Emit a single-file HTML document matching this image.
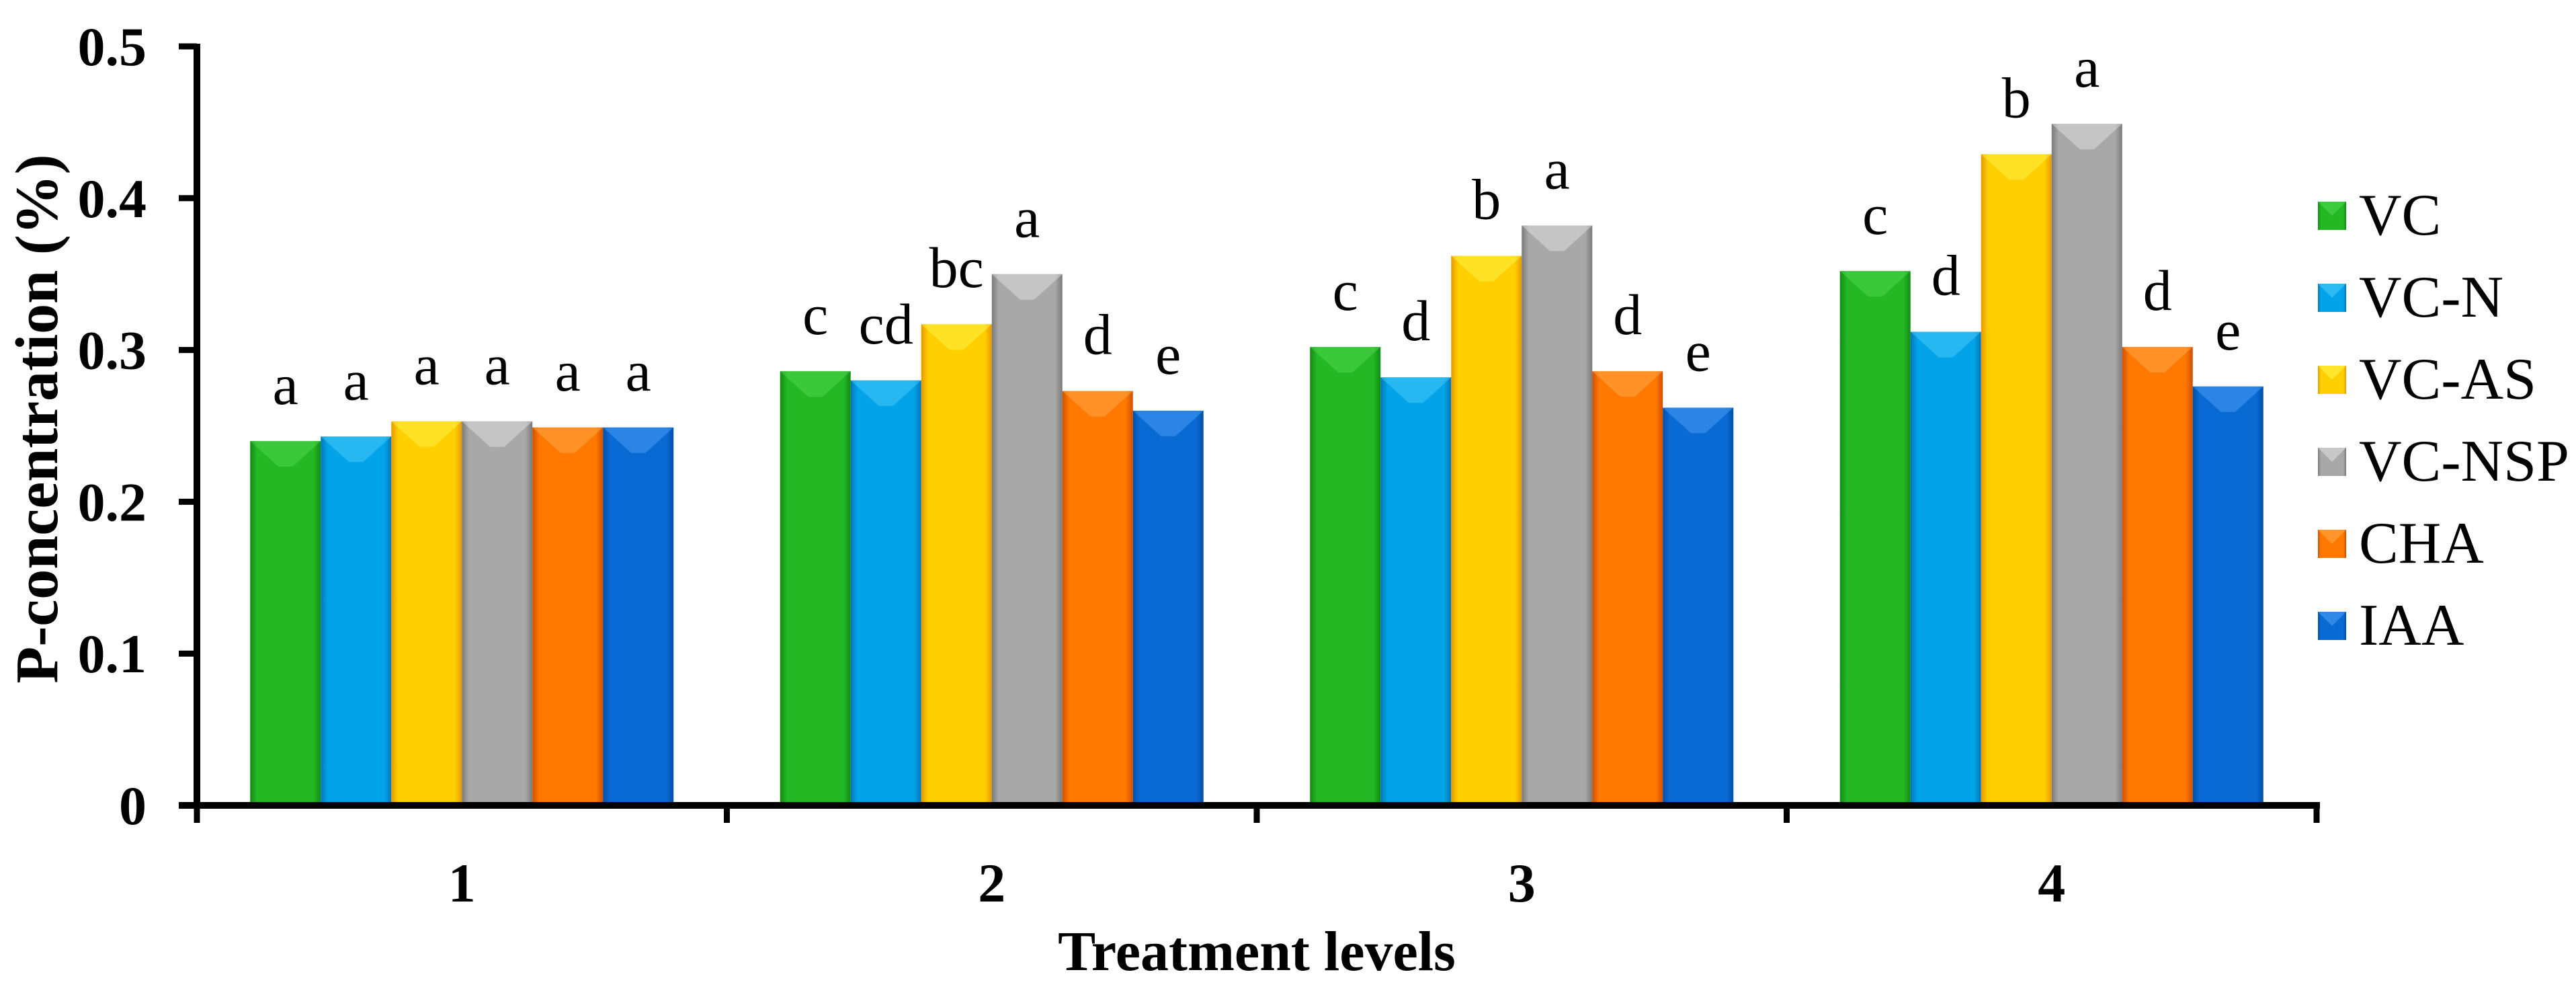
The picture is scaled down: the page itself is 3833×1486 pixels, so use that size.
<!DOCTYPE html>
<html><head><meta charset="utf-8"><style>
html,body{margin:0;padding:0;background:#fff;}
svg{display:block;}
svg text{font-family:"Liberation Serif","Times New Roman",serif;}
</style></head><body>
<svg id="chart" width="3833" height="1486" viewBox="0 0 3833 1486" xmlns="http://www.w3.org/2000/svg">
<defs id="defs"></defs>
<g id="plot"></g>
</svg>
<script>
const categories = ["1","2","3","4"];
const seriesNames = ["VC","VC-N","VC-AS","VC-NSP","CHA","IAA"];
const vcVals    = [0.240, 0.286, 0.302, 0.352];
const vcnVals   = [0.243, 0.280, 0.282, 0.312];
const vcasVals  = [0.253, 0.317, 0.362, 0.429];
const vcnspVals = [0.253, 0.350, 0.382, 0.449];
const chaVals   = [0.249, 0.273, 0.286, 0.302];
const iaaVals   = [0.249, 0.260, 0.262, 0.276];
const vcLetters    = ["a","c","c","c"];
const vcnLetters   = ["a","cd","d","d"];
const vcasLetters  = ["a","bc","b","b"];
const vcnspLetters = ["a","a","a","a"];
const chaLetters   = ["a","d","d","d"];
const iaaLetters   = ["a","e","e","e"];
const yTicks = [0,0.1,0.2,0.3,0.4,0.5];
const yTickLabels = ["0","0.1","0.2","0.3","0.4","0.5"];

const series = [vcVals,vcnVals,vcasVals,vcnspVals,chaVals,iaaVals];
const letters = [vcLetters,vcnLetters,vcasLetters,vcnspLetters,chaLetters,iaaLetters];
const colors = [
  ["#138a13","#24b824","#5fe05f"],
  ["#0077b8","#03a3ea","#5fd8ff"],
  ["#e59a00","#ffcf00","#ffff60"],
  ["#7a7a7a","#a8a8a8","#f0f0f0"],
  ["#d05000","#ff7800","#ffb860"],
  ["#0050a8","#0a6ad4","#5fb0ff"]
];
const NS="http://www.w3.org/2000/svg";
const plot=document.getElementById('plot');
const defs=document.getElementById('defs');
const X0=293, X1=3447, Y0=1198, Y1=69, YMAX=0.5;
const catW=(X1-X0)/categories.length;
const barW=105;
const SERIF='"Liberation Serif","Times New Roman",serif';
function yScale(v){return Y0-(v/YMAX)*(Y0-Y1);}
function xCat(i){return X0+catW*(i+0.5);}
function mk(tag,attrs,parent){const e=document.createElementNS(NS,tag);for(const k in attrs)e.setAttribute(k,attrs[k]);if(tag==='text')e.setAttribute('font-family',SERIF);(parent||plot).appendChild(e);return e;}

colors.forEach((c,s)=>{
  const g=mk('linearGradient',{id:'g'+s,x1:'0',x2:'1',y1:'0',y2:'0'},defs);
  mk('stop',{offset:'0',"stop-color":c[0]},g);
  mk('stop',{offset:'0.1',"stop-color":c[1]},g);
  mk('stop',{offset:'0.9',"stop-color":c[1]},g);
  mk('stop',{offset:'1',"stop-color":c[0]},g);
});

categories.forEach((cat,i)=>{
  const start=xCat(i)-barW*series.length/2;
  series.forEach((vals,s)=>{
    const v=vals[i];
    const x=start+s*barW, yt=yScale(v), h=Y0-yt;
    const r=mk('rect',{x:x,y:yt,width:barW,height:h,fill:'url(#g'+s+')'});
    
    
    const bev=mk('polygon',{points:`${x},${yt} ${x+barW},${yt} ${x+barW*0.6},${yt+38} ${x+barW*0.4},${yt+38}`,fill:colors[s][2],opacity:'0.4'});
    
    
    const t=mk('text',{x:x+barW/2,y:yt-55,"text-anchor":"middle","font-size":"86"});
    t.textContent=letters[s][i];
    
    
  });
});

const ya=mk('line',{x1:X0,y1:Y1-4,x2:X0,y2:Y0+5,stroke:'#000','stroke-width':'10'});


const xa=mk('line',{x1:X0-27,y1:Y0,x2:X1+5,y2:Y0,stroke:'#000','stroke-width':'10'});


yTicks.forEach((v,k)=>{
  const y=yScale(v);
  const tk=mk('line',{x1:X0-27,y1:y,x2:X0,y2:y,stroke:'#000','stroke-width':'9'});
  
  
  const t=mk('text',{x:218,y:y+28,"text-anchor":"end","font-size":"82","font-weight":"bold"});
  t.textContent=yTickLabels[k];
  
  
});
for(let i=0;i<=categories.length;i++){
  const x=X0+catW*i;
  const tk=mk('line',{x1:x,y1:Y0,x2:x,y2:Y0+26,stroke:'#000','stroke-width':'9'});
  
  
}
categories.forEach((c,i)=>{
  const t=mk('text',{x:xCat(i),y:1341,"text-anchor":"middle","font-size":"82","font-weight":"bold"});
  t.textContent=c;
  
  
});
const xt=mk('text',{x:1870,y:1443,"text-anchor":"middle","font-size":"84","font-weight":"bold"});
xt.textContent="Treatment levels";


const yt=mk('text',{x:0,y:0,"text-anchor":"middle","font-size":"90","font-weight":"bold",transform:"translate(85,623) rotate(-90)"});
yt.textContent="P-concentration (%)";



seriesNames.forEach((n,s)=>{
  const cy=321+122*s;
  const g=mk('g',{});
  
  
  mk('rect',{x:3449,y:cy-21,width:42,height:42,fill:'url(#g'+s+')'},g);
  mk('polygon',{points:`3449,${cy-21} 3491,${cy-21} 3470,${cy}`,fill:colors[s][2],opacity:'0.45'},g);
  const t=mk('text',{x:3510,y:cy+28,"font-size":"88"},g);
  t.textContent=n;
});
</script>
</body></html>
